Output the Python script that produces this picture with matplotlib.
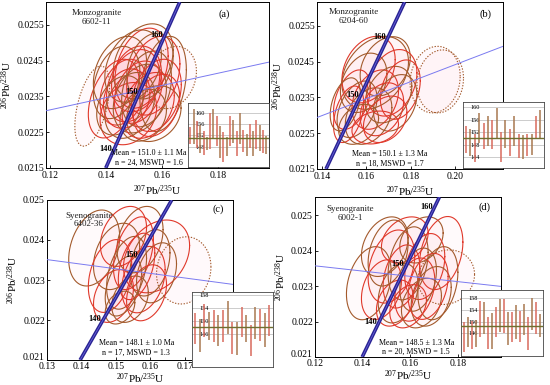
import numpy as np
import matplotlib
matplotlib.use('Agg')
import matplotlib.pyplot as plt
import matplotlib.transforms as mtransforms

plt.rcParams['font.family'] = ['Liberation Serif', 'DejaVu Serif']
plt.rcParams['mathtext.fontset'] = 'custom'
plt.rcParams['mathtext.rm'] = 'Liberation Serif'
plt.rcParams['mathtext.it'] = 'Liberation Serif:italic'
plt.rcParams['mathtext.bf'] = 'Liberation Serif:bold'

# ---------------- data ----------------
# panel (a) Monzogranite 6602-11
a_x = [0.1533, 0.1527, 0.1450, 0.1428, 0.1604, 0.1480, 0.1571, 0.1497, 0.1545, 0.1462, 0.1521, 0.1569,
       0.1485, 0.1551, 0.1497, 0.1580, 0.1438, 0.1509, 0.1533, 0.1474, 0.1557, 0.1515, 0.1450, 0.1580]
a_y = [0.02448, 0.02429, 0.02417, 0.02344, 0.02385, 0.02302, 0.02302, 0.02380, 0.02371, 0.02362, 0.02344, 0.02408,
       0.02325, 0.02325, 0.02435, 0.02353, 0.02389, 0.02399, 0.02298, 0.02344, 0.02435, 0.02362, 0.02325, 0.02325]
a_ex = [0.0107, 0.0095, 0.0095, 0.0091, 0.0083, 0.0101, 0.0097, 0.0095, 0.0089, 0.0083, 0.0095, 0.0095,
        0.0089, 0.0093, 0.0101, 0.0089, 0.0083, 0.0089, 0.0083, 0.0083, 0.0083, 0.0085, 0.0083, 0.0083]
a_ey = [0.00105, 0.00112, 0.00101, 0.00110, 0.00133, 0.00087, 0.00078, 0.00101, 0.00106, 0.00092, 0.00096, 0.00110,
        0.00092, 0.00092, 0.00101, 0.00101, 0.00101, 0.00092, 0.00073, 0.00083, 0.00092, 0.00087, 0.00083, 0.00087]
a_rho = [0.3, 0.3, 0.3, 0.4, 0.3, 0.2, 0.2, 0.3, 0.3, 0.3, 0.3, 0.3,
         0.3, 0.3, 0.3, 0.3, 0.3, 0.2, 0.2, 0.2, 0.3, 0.3, 0.3, 0.3]
a_rej_x = [0.1634, 0.1351]
a_rej_y = [0.02403, 0.02323]
a_rej_ex = [0.0089, 0.0062]
a_rej_ey = [0.00087, 0.00112]
a_rej_rho = [0.2, 0.5]
a_conc_age = [140, 150, 160]
a_conc_x = [0.1430, 0.1520, 0.1611]
a_conc_y = [0.02204, 0.02362, 0.02522]
a_ref_x = [0.1186, 0.1982]
a_ref_y = [0.02310, 0.02446]
a_age = [152.0, 155.0, 152.2, 150.6, 149.2, 149.1, 153.6, 156.0, 153.5, 149.6, 147.7, 148.1,
         153.6, 153.5, 149.1, 154.3, 150.0, 148.6, 151.8, 149.1, 152.3, 151.0, 149.8, 148.6]
a_err = [3.0, 6.2, 4.9, 5.0, 4.3, 2.3, 6.4, 5.2, 5.3, 5.8, 5.3, 3.4,
         5.4, 4.1, 4.4, 5.5, 4.0, 3.9, 4.2, 4.4, 5.3, 4.5, 4.2, 3.3]
a_mean = 151.0

# panel (b) Monzogranite 6204-60
b_x = [0.1640, 0.1610, 0.1685, 0.1715, 0.1588, 0.1535, 0.1558, 0.1640, 0.1700, 0.1753, 0.1730, 0.1520,
       0.1610, 0.1670, 0.1565, 0.1640, 0.1505, 0.1685]
b_y = [0.02419, 0.02428, 0.02437, 0.02391, 0.02391, 0.02344, 0.02317, 0.02344, 0.02358, 0.02372, 0.02335, 0.02303,
       0.02298, 0.02317, 0.02275, 0.02266, 0.02331, 0.02289]
b_ex = [0.0150, 0.0120, 0.0113, 0.0113, 0.0105, 0.0083, 0.0090, 0.0105, 0.0105, 0.0090, 0.0098, 0.0068,
        0.0105, 0.0098, 0.0090, 0.0105, 0.0068, 0.0098]
b_ey = [0.00102, 0.00093, 0.00083, 0.00093, 0.00083, 0.00083, 0.00079, 0.00083, 0.00079, 0.00083, 0.00079, 0.00079,
        0.00079, 0.00074, 0.00056, 0.00046, 0.00074, 0.00065]
b_rho = [0.3, 0.3, 0.3, 0.3, 0.3, 0.4, 0.4, 0.3, 0.3, 0.3, 0.3, 0.4,
         0.3, 0.3, 0.3, 0.2, 0.4, 0.3]
b_rej_x = [0.1910, 0.1933]
b_rej_y = [0.02400, 0.02395]
b_rej_ex = [0.0113, 0.0105]
b_rej_ey = [0.00093, 0.00088]
b_rej_rho = [0.1, 0.1]
b_conc_age = [150, 160]
b_conc_x = [0.1576, 0.1699]
b_conc_y = [0.02358, 0.02520]
b_ref_x = [0.13775, 0.2216]
b_ref_y = [0.02294, 0.02493]
b_age = [149.6, 148.7, 147.0, 153.4, 150.7, 152.4, 151.2, 154.8, 147.2, 151.4, 148.7, 152.4,
         147.6, 147.2, 147.9, 148.1, 153.4, 154.4]
b_err = [4.2, 4.4, 4.5, 4.8, 4.2, 4.8, 4.5, 4.8, 4.7, 4.4, 4.4, 4.8,
         3.8, 3.7, 3.6, 3.3, 3.7, 4.5]
b_mean = 150.1

# panel (c) Syenogranite 6402-36
c_x = [0.1437, 0.1522, 0.1570, 0.1618, 0.1502, 0.1551, 0.1599, 0.1483, 0.1531, 0.1580, 0.1618, 0.1493,
       0.1541, 0.1589, 0.1522, 0.1560, 0.1512]
c_y = [0.02380, 0.02409, 0.02401, 0.02359, 0.02359, 0.02367, 0.02343, 0.02310, 0.02318, 0.02301, 0.02318, 0.02260,
       0.02252, 0.02268, 0.02285, 0.02334, 0.02231]
c_ex = [0.0074, 0.0067, 0.0067, 0.0096, 0.0067, 0.0058, 0.0058, 0.0063, 0.0058, 0.0063, 0.0058, 0.0058,
        0.0053, 0.0058, 0.0053, 0.0053, 0.0043]
c_ey = [0.00095, 0.00075, 0.00083, 0.00091, 0.00083, 0.00091, 0.00083, 0.00091, 0.00091, 0.00083, 0.00075, 0.00066,
        0.00058, 0.00070, 0.00075, 0.00083, 0.00041]
c_rho = [0.3, 0.3, 0.3, 0.3, 0.3, 0.4, 0.3, 0.3, 0.4, 0.3, 0.3, 0.3,
         0.3, 0.3, 0.4, 0.4, 0.3]
c_rej_x = [0.1697]
c_rej_y = [0.02324]
c_rej_ex = [0.0079]
c_rej_ey = [0.00084]
c_rej_rho = [0.1]
c_conc_age = [140, 150]
c_conc_x = [0.1464, 0.1571]
c_conc_y = [0.02202, 0.02363]
c_ref_x = [0.130, 0.184]
c_ref_y = [0.02351, 0.02289]
c_age = [147.7, 145.5, 150.1, 148.3, 148.4, 147.1, 148.3, 151.1, 144.8, 144.5, 149.6, 147.6,
         144.0, 149.4, 148.8, 147.2, 150.1]
c_err = [4.7, 5.1, 5.1, 4.3, 4.9, 4.7, 4.9, 5.1, 4.8, 5.0, 4.6, 4.1,
         4.6, 4.9, 4.9, 5.2, 4.6]
c_mean = 148.1

# panel (d) Syenogranite 6002-1
d_x = [0.1493, 0.1577, 0.1647, 0.1730, 0.1426, 0.1521, 0.1591, 0.1661, 0.1716, 0.1479, 0.1549, 0.1619,
       0.1688, 0.1563, 0.1633, 0.1535, 0.1647, 0.1591, 0.1507, 0.1675]
d_y = [0.02411, 0.02430, 0.02430, 0.02393, 0.02308, 0.02355, 0.02364, 0.02355, 0.02308, 0.02290, 0.02280, 0.02290,
       0.02271, 0.02327, 0.02318, 0.02252, 0.02252, 0.02243, 0.02393, 0.02299]
d_ex = [0.0098, 0.0098, 0.0091, 0.0091, 0.0094, 0.0098, 0.0084, 0.0084, 0.0084, 0.0084, 0.0084, 0.0084,
        0.0084, 0.0077, 0.0077, 0.0077, 0.0084, 0.0077, 0.0084, 0.0084]
d_ey = [0.00084, 0.00065, 0.00065, 0.00103, 0.00103, 0.00103, 0.00103, 0.00093, 0.00103, 0.00084, 0.00084, 0.00089,
        0.00084, 0.00089, 0.00089, 0.00065, 0.00070, 0.00061, 0.00093, 0.00093]
d_rho = [0.3] * 20
d_rej_x = [0.1751]
d_rej_y = [0.02325]
d_rej_ex = [0.0119]
d_rej_ey = [0.00077]
d_rej_rho = [0.1]
d_conc_age = [140, 150, 160]
d_conc_x = [0.1471, 0.1584, 0.1704]
d_conc_y = [0.02199, 0.02363, 0.02523]
d_ref_x = [0.120, 0.1981]
d_ref_y = [0.02357, 0.02299]
d_age = [144.8, 146.4, 145.6, 145.9, 150.9, 151.2, 146.0, 146.8, 149.8, 152.0, 151.8, 147.6,
         148.1, 149.8, 148.4, 150.6, 145.9, 152.5, 151.2, 148.6]
d_err = [5.0, 5.0, 4.7, 4.5, 6.1, 5.3, 5.4, 5.9, 5.0, 5.6, 5.8, 5.6,
         5.0, 5.6, 5.3, 5.3, 5.6, 5.5, 5.3, 3.8]
d_mean = 148.5

rock_names = ['Monzogranite', 'Monzogranite', 'Syenogranite', 'Syenogranite']
sample_ids = ['6602-11', '6204-60', '6402-36', '6002-1']
panel_tags = ['(a)', '(b)', '(c)', '(d)']
mean_texts = ['Mean = 151.0 \u00b1 1.1 Ma\nn = 24, MSWD = 1.6',
              'Mean = 150.1 \u00b1 1.3 Ma\nn = 18, MSWD = 1.7',
              'Mean = 148.1 \u00b1 1.0 Ma\nn = 17, MSWD = 1.3',
              'Mean = 148.5 \u00b1 1.3 Ma\nn = 20, MSWD = 1.5']
x_ticks = [[0.12, 0.14, 0.16, 0.18], [0.14, 0.16, 0.18, 0.20],
           [0.13, 0.14, 0.15, 0.16, 0.17], [0.12, 0.14, 0.16, 0.18]]
y_ticks = [[0.0215, 0.0225, 0.0235, 0.0245, 0.0255], [0.0215, 0.0225, 0.0235, 0.0245, 0.0255],
           [0.021, 0.022, 0.023, 0.024, 0.025], [0.021, 0.022, 0.023, 0.024, 0.025]]
inset_ticks = [[148, 152, 156, 160], [144, 148, 152, 156, 160],
               [146, 150, 154, 158], [146, 150, 154, 158]]

# ---------------- layout ----------------
W, H = 550.0, 385.0
def rect(l, r, t, b):
    return [l / W, (H - b) / H, (r - l) / W, (b - t) / H]

panels = [
    dict(main=rect(46, 269, 2, 168), inset=rect(188, 269, 103, 167),
         xlim=(0.1186, 0.1982), ylim=(0.0215, 0.02614), yfmt='%.4f', xfmt='%.2f',
         ell=(a_x, a_y, a_ex, a_ey, a_rho), rej=(a_rej_x, a_rej_y, a_rej_ex, a_rej_ey, a_rej_rho),
         conc=(a_conc_age, a_conc_x, a_conc_y), ref=(a_ref_x, a_ref_y),
         bars=(a_age, a_err, a_mean), ilim=(140.7, 163.5), xpad=2.5, lpad=2, lift=0,
         name_pos=(0.227, 0.905), tag_pos=(0.80, 0.925), mean_pos=(0.462, 0.06)),
    dict(main=rect(317, 503, 2, 169), inset=rect(463, 544, 102, 168),
         xlim=(0.13775, 0.2216), ylim=(0.0215, 0.02617), yfmt='%.4f', xfmt='%.2f',
         ell=(b_x, b_y, b_ex, b_ey, b_rho), rej=(b_rej_x, b_rej_y, b_rej_ex, b_rej_ey, b_rej_rho),
         conc=(b_conc_age, b_conc_x, b_conc_y), ref=(b_ref_x, b_ref_y),
         bars=(b_age, b_err, b_mean), ilim=(140.5, 161.6), xpad=2.5, lpad=2, lift=0,
         name_pos=(0.197, 0.915), tag_pos=(0.905, 0.925), mean_pos=(0.39, 0.06)),
    dict(main=rect(47, 233, 200, 360), inset=rect(192, 273, 292, 367),
         xlim=(0.13, 0.184), ylim=(0.021, 0.025), yfmt='%.3f', xfmt='%.2f',
         ell=(c_x, c_y, c_ex, c_ey, c_rho), rej=(c_rej_x, c_rej_y, c_rej_ex, c_rej_ey, c_rej_rho),
         conc=(c_conc_age, c_conc_x, c_conc_y), ref=(c_ref_x, c_ref_y),
         bars=(c_age, c_err, c_mean), ilim=(135.9, 158.8), xpad=1.5, lpad=0, lift=2.5,
         name_pos=(0.225, 0.875), tag_pos=(0.92, 0.945), mean_pos=(0.48, 0.075)),
    dict(main=rect(315, 501, 197, 357), inset=rect(461, 543, 290, 356),
         xlim=(0.12, 0.1981), ylim=(0.021, 0.02551), yfmt='%.3f', xfmt='%.2f',
         ell=(d_x, d_y, d_ex, d_ey, d_rho), rej=(d_rej_x, d_rej_y, d_rej_ex, d_rej_ey, d_rej_rho),
         conc=(d_conc_age, d_conc_x, d_conc_y), ref=(d_ref_x, d_ref_y),
         bars=(d_age, d_err, d_mean), ilim=(138.4, 160.6), xpad=1.5, lpad=0, lift=2.5,
         name_pos=(0.19, 0.895), tag_pos=(0.91, 0.935), mean_pos=(0.545, 0.06)),
]

RED = '#e0392b'
BROWN = '#a35a2c'
PINK = '#ff7a9a'

fig = plt.figure(figsize=(5.5, 3.85), dpi=100)
t = np.linspace(0, 2 * np.pi, 240)

def draw_ellipses(ax, xs, ys, exs, eys, rhos, rejected=False):
    for i, (x0, y0, ex, ey, r) in enumerate(zip(xs, ys, exs, eys, rhos)):
        px = x0 + ex * np.cos(t)
        py = y0 + ey * (r * np.cos(t) + np.sqrt(1 - r * r) * np.sin(t))
        if rejected:
            ax.fill(px, py, color=PINK, alpha=0.04, lw=0, zorder=1)
            ax.plot(px, py, color=BROWN, lw=0.8, ls=(0, (1.2, 1.4)), zorder=2)
        else:
            ax.fill(px, py, color=PINK, alpha=0.035, lw=0, zorder=1)
            ax.plot(px, py, color=(RED if i % 2 else BROWN), lw=0.8, zorder=2)

for k, p in enumerate(panels):
    ax = fig.add_axes(p['main'])
    ax.set_xlim(*p['xlim'])
    ax.set_ylim(*p['ylim'])
    # reference line
    ax.plot(p['ref'][0], p['ref'][1], color='#7a7af0', lw=0.7, zorder=3)
    draw_ellipses(ax, *p['ell'])
    draw_ellipses(ax, *p['rej'], rejected=True)
    # concordia
    ages, cx, cy = p['conc']
    coef = np.polyfit(cy, cx, 1)
    yy = np.array(p['ylim'])
    xx = np.polyval(coef, yy)
    ax.plot(xx, yy, color='#2a2494', lw=2.6, solid_capstyle='butt', zorder=4)
    ax.plot(xx, yy, color='#6f6ae0', lw=0.5, zorder=5)
    for a_, x_, y_ in zip(ages, cx, cy):
        ax.annotate(str(a_), (x_, y_), xytext=(-1.5, 0), textcoords='offset points',
                    ha='right', va='center', fontsize=6, fontweight='bold', zorder=6)
    ax.set_xticks(x_ticks[k])
    ax.set_yticks(y_ticks[k])
    ax.set_xticklabels([p['xfmt'] % v for v in x_ticks[k]])
    ax.set_yticklabels([p['yfmt'] % v for v in y_ticks[k]])
    ax.tick_params(direction='in', length=2.5, width=0.6, labelsize=7, pad=1.5)
    ax.tick_params(axis='x', pad=p['xpad'])
    if p['lift']:
        lab0 = ax.get_yticklabels()[0]
        lab0.set_transform(lab0.get_transform() +
                           mtransforms.ScaledTranslation(0, p['lift'] / 72.0, fig.dpi_scale_trans))
    for s in ax.spines.values():
        s.set_linewidth(0.7)
    ax.set_xlabel(r'$^{207}$Pb/$^{235}$U', fontsize=8, labelpad=p['lpad'])
    ax.set_ylabel(r'$^{206}$Pb/$^{238}$U', fontsize=8, labelpad=2)
    ax.text(p['name_pos'][0], p['name_pos'][1], rock_names[k] + '\n' + sample_ids[k],
            transform=ax.transAxes, ha='center', va='center', fontsize=6.5, linespacing=1.15, color='#222222')
    ax.text(p['tag_pos'][0], p['tag_pos'][1], panel_tags[k], transform=ax.transAxes,
            ha='center', va='center', fontsize=7.5)
    ax.text(p['mean_pos'][0], p['mean_pos'][1], mean_texts[k], transform=ax.transAxes,
            ha='center', va='center', fontsize=5.8, linespacing=1.2, zorder=7)

    # inset weighted mean plot
    ia = fig.add_axes(p['inset'])
    ia.set_facecolor('white')
    age, err, mean = p['bars']
    n = len(age)
    idx = np.arange(1, n + 1)
    for j in range(n):
        col = '#d86a5c' if j % 2 == 0 else '#a8784f'
        ia.vlines(idx[j], age[j] - err[j], age[j] + err[j], colors=col, lw=1.1)
    ia.axhline(mean, color='#6f7030', lw=1.0, zorder=3)
    ia.set_xlim(0.3, n + 0.8)
    ia.set_ylim(*p['ilim'])
    ia.set_yticks(inset_ticks[k])
    ia.set_xticks([])
    ia.yaxis.grid(True, color='#b8b8b8', lw=0.5)
    ia.set_axisbelow(True)
    ia.tick_params(axis='y', direction='in', length=0, pad=-5.5, labelsize=4.5)
    for lab in ia.get_yticklabels():
        lab.set_horizontalalignment('left')
    for s in ia.spines.values():
        s.set_linewidth(0.6)
        s.set_color('#444444')

fig.savefig('out.png', dpi=100)
